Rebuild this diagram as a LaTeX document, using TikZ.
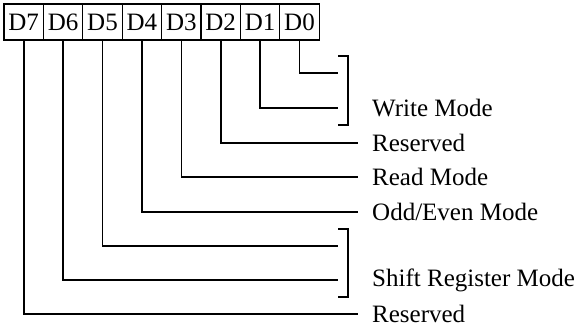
\documentclass[tikz,border=0pt]{standalone}
\usepackage{fontspec}
\setmainfont{Liberation Serif}
\usetikzlibrary{positioning}
\tikzset{
  bitbox/.style={draw, line width=1.3pt, minimum width=39.4pt, minimum height=36pt, inner sep=0pt, outer sep=0pt, font=\fontsize{25}{30}\selectfont},
  fieldname/.style={anchor=west, inner sep=3pt, font=\fontsize{25}{30}\selectfont},
  wire/.style={line width=1.6pt},
  brace/.style={line width=1.6pt}
}

\begin{document}
\begin{tikzpicture}[x=1pt, y=-1pt]
  \useasboundingbox (0,0) rectangle (579,327);
  % register bits
  \foreach \b [count=\i from 0] in {7,6,5,4,3,2,1,0}
    \node[bitbox] (d\b) at ({4+39.4*(\i+0.5)},22) {D\b};

  % wire ends
  \coordinate (e0) at (338,73);
  \coordinate (e1) at (338,108);
  \coordinate (e2) at (358,143);
  \coordinate (e3) at (358,177);
  \coordinate (e4) at (358,212);
  \coordinate (e5) at (338,246);
  \coordinate (e6) at (338,280);
  \coordinate (e7) at (358,314);
  \foreach \b in {0,...,7}
    \draw[wire] (d\b.south) |- (e\b);

  % brackets
  \coordinate (bk1) at (348,108);
  \coordinate (bk2) at (348,280);
  \draw[brace] (338,56) -| (348,125) -- (338,125);
  \draw[brace] (338,229) -| (348,297) -- (338,297);

  \node[fieldname, right=21pt of bk1] (wmode) {Write Mode};
  \node[fieldname, right=11pt of e2] (rsv1) {Reserved};
  \node[fieldname, right=11pt of e3] (rmode) {Read Mode};
  \node[fieldname, right=11pt of e4] (oemode) {Odd/Even Mode};
  \node[fieldname, right=21pt of bk2] (srmode) {Shift Register Mode};
  \node[fieldname, right=11pt of e7] (rsv2) {Reserved};
\end{tikzpicture}
\end{document}
